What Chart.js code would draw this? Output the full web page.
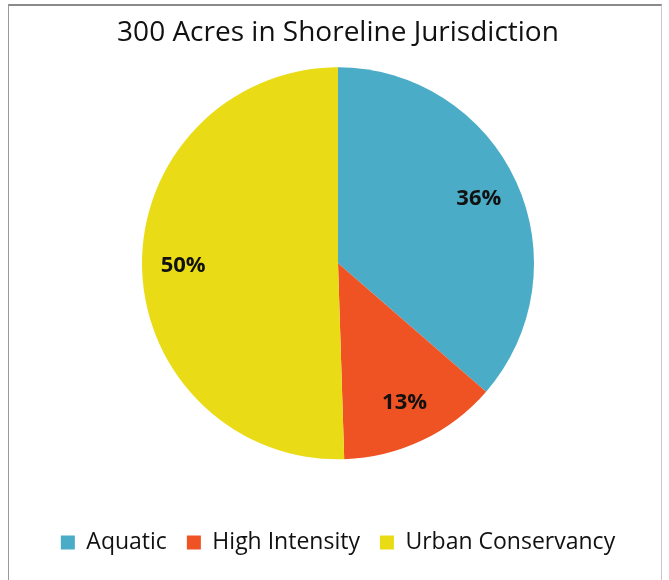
<!DOCTYPE html>
<html>
<head>
<meta charset="utf-8">
<script src="https://cdn.jsdelivr.net/npm/chart.js@4"></script>
<style>
    body { margin: 0; background: #fff; width: 669px; height: 580px; overflow: hidden; position: relative; }
    #frame {
        position: absolute; left: 8px; top: 4px; width: 652px; height: 600px;
        border: 1px solid #c8c8c8; border-top: 2px solid #8a8a8a; border-left: 1px solid #9a9a9a;
    }
    #wrap { position: absolute; left: 12px; top: 5px; width: 652px; height: 559px; }
</style>
</head>
<body>
<div id="frame"></div>
<div id="wrap"><canvas id="chart"></canvas></div>
<script>
const categories = ['Aquatic', 'High Intensity', 'Urban Conservancy'];
const percentValues = [36, 13, 50];
const sliceColors = ['#4AACC6', '#EF5223', '#E9DC17'];

// 扇形の中にパーセント表示
const sliceLabels = {
    id: 'sliceLabels',
    afterDatasetsDraw(chart) {
        const ctx = chart.ctx;
        const meta = chart.getDatasetMeta(0);
        ctx.save();
        ctx.font = 'bold 22px "Open Sans"';
        ctx.fillStyle = '#111';
        ctx.textAlign = 'center';
        ctx.textBaseline = 'middle';
        meta.data.forEach((arc, i) => {
            const p = arc.getProps(['x', 'y', 'startAngle', 'endAngle', 'outerRadius']);
            const mid = (p.startAngle + p.endAngle) / 2;
            const r = p.outerRadius * 0.79;
            ctx.fillText(percentValues[i] + '%', p.x + Math.cos(mid) * r, p.y + Math.sin(mid) * r);
        });
        ctx.restore();
    }
};

const ctx = document.getElementById('chart').getContext('2d');
new Chart(ctx, {
    type: 'pie',
    data: {
        labels: categories,
        datasets: [{
            data: percentValues,
            backgroundColor: sliceColors,
            borderWidth: 0,
            radius: 196
        }]
    },
    options: {
        responsive: true,
        maintainAspectRatio: false,
        animation: false,
        layout: { padding: 0 },
        plugins: {
            title: {
                display: true,
                text: '300 Acres in Shoreline Jurisdiction',
                color: '#111',
                font: { family: '"Open Sans"', size: 28, weight: 'normal' },
                padding: { top: 11, bottom: 2 }
            },
            legend: {
                position: 'bottom',
                title: { display: true, text: '', font: { size: 10 }, padding: 12 },
                labels: {
                    boxWidth: 14,
                    boxHeight: 14,
                    padding: 20,
                    color: '#111',
                    font: { family: '"Open Sans"', size: 23 }
                }
            },
            tooltip: { enabled: false }
        }
    },
    plugins: [sliceLabels]
});
</script>
</body>
</html>
